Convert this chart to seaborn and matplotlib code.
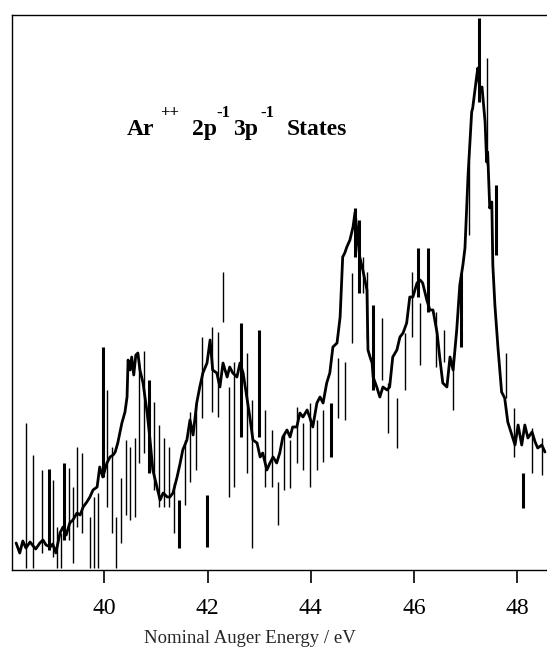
import matplotlib
matplotlib.use("Agg")
import matplotlib.pyplot as plt
import seaborn as sns
import numpy as np
import pandas as pd

# ---- data ----
energy = [38.29, 38.36, 38.42, 38.48, 38.56, 38.62, 38.67, 38.75, 38.81, 38.87,
          38.95, 39.00, 39.06, 39.14, 39.20, 39.26, 39.33, 39.39, 39.47, 39.53,
          39.59, 39.66, 39.72, 39.78, 39.86, 39.91, 39.97, 40.05, 40.11, 40.17,
          40.21, 40.26, 40.34, 40.40, 40.44, 40.46, 40.50, 40.53, 40.57, 40.61,
          40.65, 40.69, 40.75, 40.83, 40.88, 40.94, 41.02, 41.08, 41.14, 41.22,
          41.27, 41.33, 41.41, 41.47, 41.52, 41.60, 41.66, 41.72, 41.79, 41.85,
          41.91, 41.99, 42.05, 42.10, 42.18, 42.24, 42.30, 42.38, 42.43, 42.49,
          42.57, 42.63, 42.69, 42.76, 42.82, 42.88, 42.96, 43.02, 43.07, 43.15,
          43.21, 43.27, 43.34, 43.40, 43.46, 43.54, 43.60, 43.65, 43.73, 43.79,
          43.85, 43.93, 43.98, 44.04, 44.12, 44.18, 44.24, 44.31, 44.37, 44.43,
          44.51, 44.57, 44.62, 44.66, 44.70, 44.76, 44.82, 44.86, 44.90, 44.95,
          45.01, 45.09, 45.11, 45.15, 45.19, 45.21, 45.28, 45.34, 45.40, 45.48,
          45.53, 45.59, 45.67, 45.73, 45.79, 45.86, 45.92, 45.98, 46.06, 46.12,
          46.17, 46.25, 46.31, 46.37, 46.45, 46.50, 46.56, 46.64, 46.70, 46.76,
          46.83, 46.89, 46.95, 46.99, 47.05, 47.12, 47.14, 47.22, 47.24, 47.28,
          47.32, 47.38, 47.41, 47.43, 47.47, 47.51, 47.53, 47.57, 47.63, 47.70,
          47.76, 47.82, 47.90, 47.96, 48.02, 48.09, 48.15, 48.21, 48.29, 48.35,
          48.40, 48.48, 48.54]
intensity = [27, 17, 29, 22, 28, 24, 21, 27, 30, 25,
             23, 26, 17, 37, 43, 35, 47, 50, 57, 55,
             63, 68, 73, 80, 83, 103, 93, 107, 113, 115,
             118, 127, 147, 158, 173, 210, 200, 213, 195, 215,
             217, 200, 187, 157, 133, 100, 83, 70, 77, 73,
             73, 77, 93, 107, 120, 130, 150, 135, 167, 183,
             197, 207, 230, 200, 197, 183, 207, 193, 203, 197,
             193, 207, 197, 173, 153, 130, 127, 113, 117, 100,
             107, 113, 107, 117, 133, 140, 133, 143, 143, 157,
             153, 160, 153, 143, 167, 173, 167, 187, 197, 223,
             227, 253, 313, 317, 323, 330, 343, 358, 337, 313,
             300, 280, 220, 213, 207, 193, 183, 173, 183, 180,
             183, 213, 220, 233, 237, 247, 273, 273, 287, 290,
             287, 270, 260, 260, 237, 213, 187, 183, 213, 200,
             240, 285, 305, 322, 395, 458, 462, 495, 502, 478,
             483, 448, 408, 418, 362, 368, 305, 265, 222, 178,
             172, 148, 135, 125, 145, 125, 145, 132, 138, 128,
             122, 125, 118]

# thin error bars: energy, low, high
err_thin_e = [38.48, 38.62, 38.79, 39.00, 39.08, 39.16, 39.31, 39.39, 39.47, 39.57,
              39.72, 39.80, 39.88, 40.05, 40.15, 40.23, 40.32, 40.42, 40.49, 40.59,
              40.67, 40.77, 40.96, 41.06, 41.16, 41.25, 41.35, 41.56, 41.66, 41.78,
              41.89, 42.09, 42.20, 42.30, 42.42, 42.51, 42.76, 42.86, 43.11, 43.25,
              43.36, 43.48, 43.59, 43.73, 43.85, 43.98, 44.12, 44.24, 44.53, 44.66,
              44.80, 45.01, 45.09, 45.38, 45.50, 45.67, 45.83, 45.96, 46.12, 46.42,
              46.58, 46.75, 47.07, 47.41, 47.78, 47.94, 48.29, 48.48]
err_thin_lo = [2, 2, 17, 13, 2, 2, 30, 7, 43, 37,
               2, 2, 2, 63, 37, 2, 27, 55, 50, 53,
               107, 117, 80, 63, 63, 63, 37, 65, 88, 100,
               152, 158, 153, 248, 73, 83, 97, 22, 83, 83,
               45, 80, 82, 107, 100, 83, 100, 108, 152, 150,
               227, 277, 230, 190, 137, 122, 180, 233, 205, 203,
               208, 160, 335, 405, 172, 113, 97, 95]
err_thin_hi = [147, 115, 100, 90, 43, 37, 102, 83, 123, 117,
               53, 73, 77, 180, 123, 53, 92, 130, 123, 132,
               207, 219, 168, 145, 132, 123, 87, 130, 158, 167,
               233, 243, 238, 298, 183, 208, 217, 170, 160, 140,
               88, 137, 130, 163, 147, 167, 150, 160, 212, 208,
               297, 313, 298, 252, 187, 172, 237, 298, 267, 258,
               240, 213, 408, 512, 217, 162, 142, 132]

# thick error bars: energy, low, high
err_thick_e = [38.93, 39.22, 39.97, 40.86, 41.45, 41.99, 42.65, 43.00, 44.39, 44.86,
               44.93, 45.21, 46.08, 46.27, 46.91, 47.26, 47.59, 48.12]
err_thick_lo = [20, 30, 93, 97, 22, 23, 133, 133, 113, 313,
                277, 180, 273, 258, 223, 468, 315, 62]
err_thick_hi = [101, 107, 223, 190, 70, 75, 247, 240, 167, 362,
                350, 265, 322, 322, 297, 552, 385, 97]

x_ticks = [40, 42, 44, 46, 48]
x_label = "Nominal Auger Energy / eV"
# title pieces: (text, is_superscript)
title_parts = [("Ar", False), ("++", True), ("2p", False), ("-1", True),
               ("3p", False), ("-1", True), ("States", False)]

# ---- style ----
sns.set_theme(style="white")
plt.rcParams["font.family"] = ["Liberation Serif", "DejaVu Serif"]

fig = plt.figure(figsize=(5.47, 6.49), dpi=100)
ax = fig.add_axes([12 / 547, 79 / 649, 1 - 12 / 547, 555 / 649])

df = pd.DataFrame({"energy": energy, "intensity": intensity})

ax.vlines(err_thin_e, err_thin_lo, err_thin_hi, color="black", linewidth=1.0, zorder=2)
ax.vlines(err_thick_e, err_thick_lo, err_thick_hi, color="black", linewidth=2.2, zorder=2)
sns.lineplot(data=df, x="energy", y="intensity", sort=False, estimator=None,
             color="black", linewidth=2.0, ax=ax, zorder=3)

ax.set_xlim(38.21, 48.58)
ax.set_ylim(0, 555)
ax.set_xticks(x_ticks)
ax.set_xticklabels([str(t) for t in x_ticks], fontsize=17)
ax.set_yticks([])
ax.set_xlabel(x_label, fontsize=13.5)
ax.xaxis.set_label_coords(0.445, -0.108)
ax.set_ylabel("")
ax.tick_params(axis="x", direction="out", length=9, width=1.2, colors="black",
               pad=11, bottom=True)
for side in ["left", "top", "bottom"]:
    ax.spines[side].set_visible(True)
    ax.spines[side].set_color("black")
    ax.spines[side].set_linewidth(1.0)
ax.spines["right"].set_visible(False)

# title, built piece by piece (left pixel position of each piece)
piece_px = [127, 160, 192, 216, 233, 260, 287]
for (txt, sup), px in zip(title_parts, piece_px):
    xf = (px - 12) / 535
    if sup:
        ax.text(xf, (570 - 117) / 555, txt, transform=ax.transAxes, fontsize=12,
                fontweight="bold", ha="left", va="baseline", color="black")
    else:
        ax.text(xf, (570 - 135) / 555, txt, transform=ax.transAxes, fontsize=17,
                fontweight="bold", ha="left", va="baseline", color="black")

fig.savefig("out.png", dpi=100, facecolor="white")
